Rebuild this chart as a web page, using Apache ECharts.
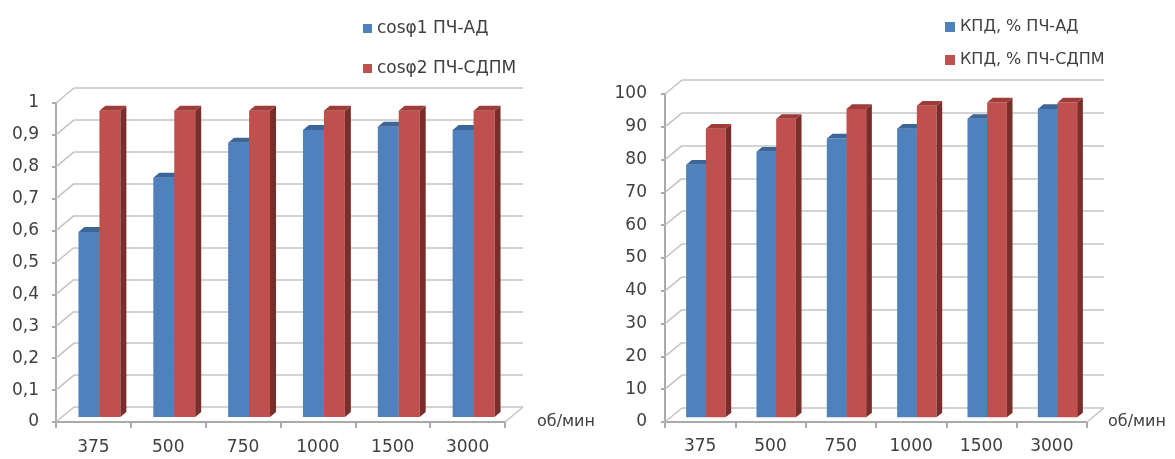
<!DOCTYPE html>
<html>
<head>
<meta charset="utf-8">
<script src="https://cdn.jsdelivr.net/npm/echarts@6.0.0/dist/echarts.min.js"></script>
<style>
  html, body { margin: 0; padding: 0; background: #ffffff; }
  #chart { width: 1175px; height: 459px; }
</style>
</head>
<body>
<div id="chart"></div>
<script>
// Shaft speed, rpm
const speeds = ['375', '500', '750', '1000', '1500', '3000'];

// Power factor
const cosAD   = [0.58, 0.75, 0.86, 0.90, 0.91, 0.90];
const cosSDPM = [0.96, 0.96, 0.96, 0.96, 0.96, 0.96];

// Efficiency, %
const kpdAD   = [77, 81, 85, 88, 91, 94];
const kpdSDPM = [88, 91, 94, 95, 96, 96];

// Value-axis ticks
const cosTicks = [0, 0.1, 0.2, 0.3, 0.4, 0.5, 0.6, 0.7, 0.8, 0.9, 1];
const kpdTicks = [0, 10, 20, 30, 40, 50, 60, 70, 80, 90, 100];

const names = {
  cos1: 'cosφ1 ПЧ-АД',
  cos2: 'cosφ2 ПЧ-СДПМ',
  kpd1: 'КПД, % ПЧ-АД',
  kpd2: 'КПД, % ПЧ-СДПМ'
};

const FONT = 'DejaVu Sans';
const TEXT = '#404040';
const GRID_LINE = '#c4c4c4';
const AXIS_LINE = '#aaaaaa';

const BLUE = { front: '#4f81bd', side: '#34577f', top: '#3d6698' };
const RED  = { front: '#c0504d', side: '#7a2e2c', top: '#9e3c39' };

// Depth vector of each plot (front plane -> back wall)
const depthCos = [18, -15];
const depthKpd = [17, -14];

// One 3D column: front face, right side face and top face
function column(depth, side, colors) {
  return function (params, api) {
    const cat = api.value(0);
    const v = api.value(1);
    const base = api.coord([cat, 0]);
    const top = api.coord([cat, v]);
    const band = api.size([1, 0])[0];
    const w = band * 0.28;
    const dx = depth[0] / 3, dy = depth[1] / 3;
    const x0 = base[0] + (side < 0 ? -w : 0) + dx;
    const x1 = x0 + w;
    const yb = base[1] + dy;
    const yt = top[1] + dy;
    return {
      type: 'group',
      children: [
        { type: 'rect', shape: { x: x0, y: yt, width: w, height: yb - yt },
          style: { fill: colors.front } },
        { type: 'polygon', shape: { points: [[x1, yt], [x1 + dx, yt + dy], [x1 + dx, yb + dy], [x1, yb]] },
          style: { fill: colors.side } },
        { type: 'polygon', shape: { points: [[x0, yt], [x1, yt], [x1 + dx, yt + dy], [x0 + dx, yt + dy]] },
          style: { fill: colors.top } }
      ]
    };
  };
}

// Slanted side-wall lines joining the front axis to the back-wall gridlines
function wallEdges(depth) {
  return function (params, api) {
    const v = api.value(1);
    const cs = params.coordSys;
    const y = api.coord([0, v])[1];
    const st = { stroke: GRID_LINE, lineWidth: 1.6 };
    const children = [
      { type: 'line', shape: { x1: cs.x, y1: y, x2: cs.x + depth[0], y2: y + depth[1] }, style: st }
    ];
    if (v === 0) {
      const xr = cs.x + cs.width;
      children.push({ type: 'line', shape: { x1: xr, y1: y, x2: xr + depth[0], y2: y + depth[1] }, style: st });
    }
    return { type: 'group', children: children };
  };
}

function cosLabel(v) {
  return String(Math.round(v * 10) / 10).replace('.', ',');
}

const labelStyle = { color: TEXT, fontFamily: FONT, fontSize: 17 };

function frontY(max, interval, formatter, margin) {
  return {
    type: 'value', min: 0, max: max, interval: interval,
    axisLine: { show: true, lineStyle: { color: AXIS_LINE, width: 2 } },
    axisTick: { show: true, length: 4, lineStyle: { color: AXIS_LINE, width: 2 } },
    axisLabel: Object.assign({ margin: margin, formatter: formatter }, labelStyle),
    splitLine: { show: false }
  };
}

function backY(max, interval, gridIndex) {
  return {
    type: 'value', gridIndex: gridIndex, min: 0, max: max, interval: interval,
    axisLine: { show: false }, axisTick: { show: false }, axisLabel: { show: false },
    splitLine: { show: true, lineStyle: { color: GRID_LINE, width: 1.6 } }
  };
}

function frontX(gridIndex, margin, gap, pad) {
  return {
    type: 'category', gridIndex: gridIndex, data: speeds,
    axisLine: { show: true, lineStyle: { color: AXIS_LINE, width: 2 } },
    axisTick: { show: true, length: 6, lineStyle: { color: AXIS_LINE, width: 2 } },
    axisLabel: Object.assign({ margin: margin }, labelStyle),
    name: 'об/мин', nameLocation: 'end', nameGap: gap,
    nameTextStyle: { color: TEXT, fontFamily: FONT, fontSize: 16, padding: pad }
  };
}

function backX(gridIndex) {
  return { type: 'category', gridIndex: gridIndex, data: speeds, show: false };
}

const pairs = (vals) => vals.map((v, i) => [i, v]);
const tickPairs = (ticks) => ticks.map((v) => [0, v]);

const option = {
  backgroundColor: '#ffffff',
  animation: false,
  legend: [
    {
      data: [names.cos1, names.cos2], orient: 'vertical', left: 358, top: 15,
      icon: 'rect', itemWidth: 9, itemHeight: 9, itemGap: 23,
      textStyle: { color: TEXT, fontFamily: FONT, fontSize: 17 }
    },
    {
      data: [names.kpd1, names.kpd2], orient: 'vertical', left: 940, top: 14,
      icon: 'rect', itemWidth: 10, itemHeight: 10, itemGap: 17,
      textStyle: { color: TEXT, fontFamily: FONT, fontSize: 16 }
    }
  ],
  grid: [
    { left: 56, top: 103, width: 449, height: 319 },   // power factor, front plane
    { left: 74, top: 88, width: 449, height: 319 },    // power factor, back wall
    { left: 665, top: 94, width: 422, height: 328 },   // efficiency, front plane
    { left: 682, top: 80, width: 422, height: 328 }    // efficiency, back wall
  ],
  xAxis: [
    frontX(0, 17, 32, [0, 0, 14, 0]),
    backX(1),
    frontX(2, 16, 21, [8, 0, 0, 0]),
    backX(3)
  ],
  yAxis: [
    Object.assign(frontY(1, 0.1, cosLabel, 17), { gridIndex: 0 }),
    backY(1, 0.1, 1),
    Object.assign(frontY(100, 10, '{value}', 18), { gridIndex: 2 }),
    backY(100, 10, 3)
  ],
  series: [
    { type: 'custom', xAxisIndex: 0, yAxisIndex: 0, data: tickPairs(cosTicks),
      renderItem: wallEdges(depthCos), silent: true, z: 1 },
    { type: 'custom', xAxisIndex: 2, yAxisIndex: 2, data: tickPairs(kpdTicks),
      renderItem: wallEdges(depthKpd), silent: true, z: 1 },

    { type: 'custom', name: names.cos1, xAxisIndex: 0, yAxisIndex: 0, data: pairs(cosAD),
      encode: { x: 0, y: 1 }, itemStyle: { color: BLUE.front },
      renderItem: column(depthCos, -1, BLUE), z: 3 },
    { type: 'custom', name: names.cos2, xAxisIndex: 0, yAxisIndex: 0, data: pairs(cosSDPM),
      encode: { x: 0, y: 1 }, itemStyle: { color: RED.front },
      renderItem: column(depthCos, 1, RED), z: 4 },

    { type: 'custom', name: names.kpd1, xAxisIndex: 2, yAxisIndex: 2, data: pairs(kpdAD),
      encode: { x: 0, y: 1 }, itemStyle: { color: BLUE.front },
      renderItem: column(depthKpd, -1, BLUE), z: 3 },
    { type: 'custom', name: names.kpd2, xAxisIndex: 2, yAxisIndex: 2, data: pairs(kpdSDPM),
      encode: { x: 0, y: 1 }, itemStyle: { color: RED.front },
      renderItem: column(depthKpd, 1, RED), z: 4 }
  ]
};

const chart = echarts.init(document.getElementById('chart'), null, { renderer: 'canvas' });
chart.setOption(option);
</script>
</body>
</html>
